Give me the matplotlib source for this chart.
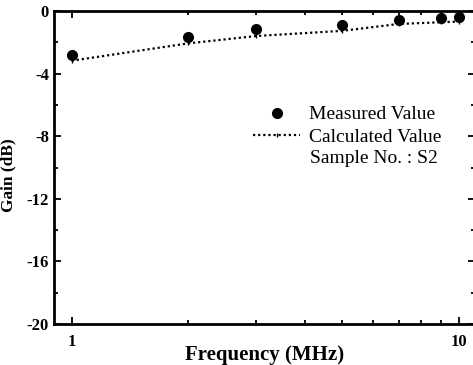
import matplotlib.pyplot as plt
from matplotlib.ticker import FixedLocator, NullFormatter

# gain vs frequency, sample S2
freq = [1, 2, 3, 5, 7, 9, 10]
gain_measured = [-2.8, -1.69, -1.15, -0.92, -0.56, -0.42, -0.4]
gain_calculated = [-3.18, -2.07, -1.6, -1.27, -0.83, -0.72, -0.68]

plt.rcParams['font.family'] = 'Liberation Serif'

fig = plt.figure(figsize=(4.73, 3.65), dpi=100)
ax = fig.add_axes([0.114, 0.112, 0.89, 0.858])

ax.plot(freq, gain_measured, 'o', color='black', markersize=7, label='Measured Value')
ax.plot(freq, gain_calculated, ls=(0, (1, 1.3)), lw=1.6, color='black',
        marker='|', markersize=3, label='Calculated Value')

ax.set_xscale('log')
ax.set_xlim(0.9, 11)
ax.set_ylim(-20, 0)
ax.xaxis.set_major_locator(FixedLocator([1, 10]))
ax.xaxis.set_minor_locator(FixedLocator([2, 3, 4, 5, 6, 7, 8, 9]))
ax.xaxis.set_minor_formatter(NullFormatter())
ax.set_xticklabels(['1', '10'])
ax.yaxis.set_major_locator(FixedLocator([0, -4, -8, -12, -16, -20]))
ax.yaxis.set_minor_locator(FixedLocator([-2, -6, -10, -14, -18]))
ax.set_yticklabels(['0', '-4', '-8', '-12', '-16', '-20'])

ax.tick_params(which='both', direction='in', top=True, right=True, width=1.3)
ax.tick_params(which='major', length=5, labelsize=12)
ax.tick_params(axis='x', which='major', pad=7)
ax.tick_params(which='minor', length=3)
for lbl in ax.get_xticklabels() + ax.get_yticklabels():
    lbl.set_fontweight('bold')
for sp in ax.spines.values():
    sp.set_linewidth(2)

ax.set_xlabel('Frequency (MHz)', fontsize=15, fontweight='bold')
ax.xaxis.set_label_coords(0.5, -0.068)
ax.set_ylabel('Gain (dB)', fontsize=12.5, fontweight='bold')
ax.yaxis.set_label_coords(-0.09, 0.475)

leg = ax.legend(loc='upper left', bbox_to_anchor=(0.455, 0.722), frameon=False,
                fontsize=14, handlelength=2.4, handletextpad=0.45, labelspacing=0.25,
                borderaxespad=0)
ax.text(0.76, 0.528, 'Sample No. : S2', transform=ax.transAxes, fontsize=14,
        ha='center', va='center')

fig.savefig('out.png', dpi=100)
